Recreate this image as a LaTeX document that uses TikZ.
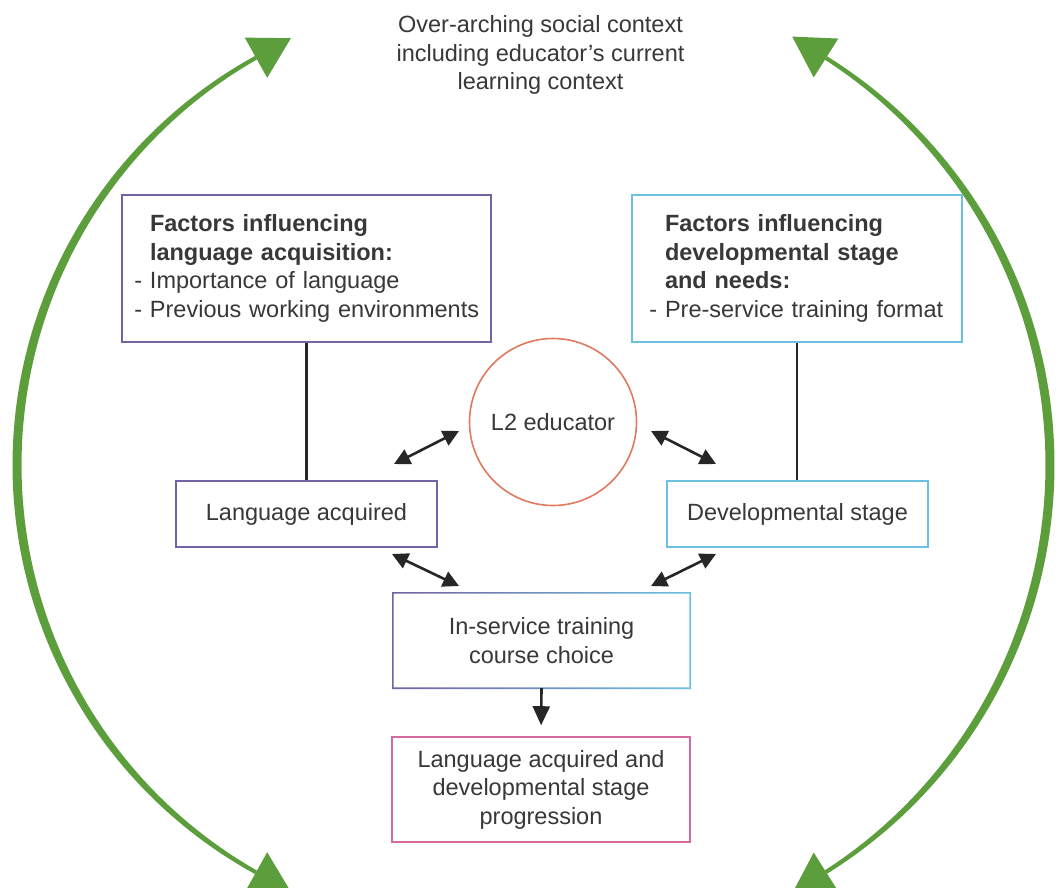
\documentclass[tikz,border=0pt]{standalone}
\usepackage{fontspec}
\setmainfont{Liberation Sans}
\usetikzlibrary{arrows.meta,calc}
\definecolor{grn}{HTML}{5C9E3C}
\definecolor{purp}{HTML}{7462A2}
\definecolor{blu}{HTML}{6CC0E0}
\definecolor{orng}{HTML}{E07A5F}
\definecolor{pnk}{HTML}{D46A9F}
\definecolor{txt}{HTML}{383838}
% tapered green arc: cx, cy, R, phi1, phi2
\newcommand{\greenarc}[5]{%
  \fill[grn] plot[domain=#4:#5,samples=80,smooth]
    ({#1+(#3+(2+2.5*sin((\x-#4)/(#5-#4)*180)))*cos(\x)},{#2+(#3+(2+2.5*sin((\x-#4)/(#5-#4)*180)))*sin(\x)})
    -- plot[domain=#5:#4,samples=80,smooth]
    ({#1+(#3-(2+2.5*sin((\x-#4)/(#5-#4)*180)))*cos(\x)},{#2+(#3-(2+2.5*sin((\x-#4)/(#5-#4)*180)))*sin(\x)})
    -- cycle;}
% green arrow head at angle phi of circle (cx,cy,R), travel sign s
\newcommand{\greenhead}[5]{%
  \pgfmathsetmacro\ghMx{#1+#3*cos(#4)}%
  \pgfmathsetmacro\ghMy{#2+#3*sin(#4)}%
  \pgfmathsetmacro\ghTx{-#5*sin(#4)}%
  \pgfmathsetmacro\ghTy{#5*cos(#4)}%
  \fill[grn] ({\ghMx+40*\ghTx},{\ghMy+40*\ghTy}) -- ({\ghMx-23*\ghTy},{\ghMy+23*\ghTx})
    -- ({\ghMx+23*\ghTy},{\ghMy-23*\ghTx}) -- cycle;}
\newcommand{\dashitem}[1]{\leavevmode\llap{- }\mbox{#1}}
\tikzset{
  box/.style={draw, line width=1.6pt, text=txt, inner sep=0pt},
  link/.style={line width=2.6pt, draw=black!85},
  dbl/.style={line width=2.6pt, draw=black!85, {Triangle[length=16pt,width=16pt]}-{Triangle[length=16pt,width=16pt]}},
  sgl/.style={line width=2.6pt, draw=black!85, -{Triangle[length=19pt,width=17pt]}},
}
\begin{document}
\begin{tikzpicture}[x=1pt,y=-1pt,font=\fontsize{23.5}{28.5}\selectfont]
\useasboundingbox (0,0) rectangle (1062,888);
\fill[white] (0,0) rectangle (1062,888);

% green context arcs
\greenarc{483.6}{465}{466.6}{119.2}{240.8}
\greenhead{483.6}{465}{466.6}{240.8}{1}
\greenhead{483.6}{465}{466.6}{119.2}{-1}
\greenarc{568.2}{465}{481.8}{-57.65}{57.65}
\greenhead{568.2}{465}{481.8}{-57.65}{-1}
\greenhead{568.2}{465}{481.8}{57.65}{1}

\node[align=center, text=txt] (title) at (540.5,55) {Over-arching social context\\including educator’s current\\learning context};

\node[box, draw=purp, minimum width=369pt, minimum height=147pt, text width=313pt, inner xsep=28pt, align=left] (lt) at (306.5,268.5)
  {\mbox{\textbf{Factors influencing}}\\\mbox{\textbf{language acquisition:}}\\\dashitem{Importance of language}\\\dashitem{Previous working environments}};
\node[box, draw=blu, minimum width=330pt, minimum height=147pt, text width=264pt, inner xsep=33pt, align=left] (rt) at (797,268.5)
  {\mbox{\textbf{Factors influencing}}\\\mbox{\textbf{developmental stage}}\\\mbox{\textbf{and needs:}}\\\dashitem{Pre-service training format}};

\node[circle, draw=orng, line width=1.6pt, minimum size=167pt, inner sep=0pt, text=txt] (l2) at (553,422) {L2 educator};

\node[box, draw=purp, minimum width=261pt, minimum height=66pt] (la) at (306.5,514) {Language acquired};
\node[box, draw=blu, minimum width=261pt, minimum height=66pt] (dev) at (797.5,514) {Developmental stage};

\node[minimum width=297pt, minimum height=95pt, inner sep=0pt, align=center, text=txt] (ins) at (541.5,640.5) {In-service training\\course choice};
\shade[left color=purp, right color=blu, even odd rule]
  ($(ins.south west)+(-0.8,0.8)$) rectangle ($(ins.north east)+(0.8,-0.8)$)
  ($(ins.south west)+(0.8,-0.8)$) rectangle ($(ins.north east)+(-0.8,0.8)$);

\node[box, draw=pnk, minimum width=298pt, minimum height=105pt, align=center] (out) at (541,789.5) {Language acquired and\\developmental stage\\progression};

% connectors
\draw[link] (lt.south) -- (la.north);
\draw[link] (rt.south) -- (rt.south |- dev.north);
\draw[sgl, shorten >=11pt] (ins.south) -- (out.north);

\coordinate (ulA) at (394,464); \coordinate (ulB) at (459,431);
\coordinate (urA) at (651,431); \coordinate (urB) at (716,464);
\coordinate (llA) at (392,554); \coordinate (llB) at (459,586);
\coordinate (lrA) at (716,554); \coordinate (lrB) at (651,586);
\draw[dbl] (ulA) -- (ulB);
\draw[dbl] (urA) -- (urB);
\draw[dbl] (llA) -- (llB);
\draw[dbl] (lrA) -- (lrB);
\end{tikzpicture}
\end{document}
